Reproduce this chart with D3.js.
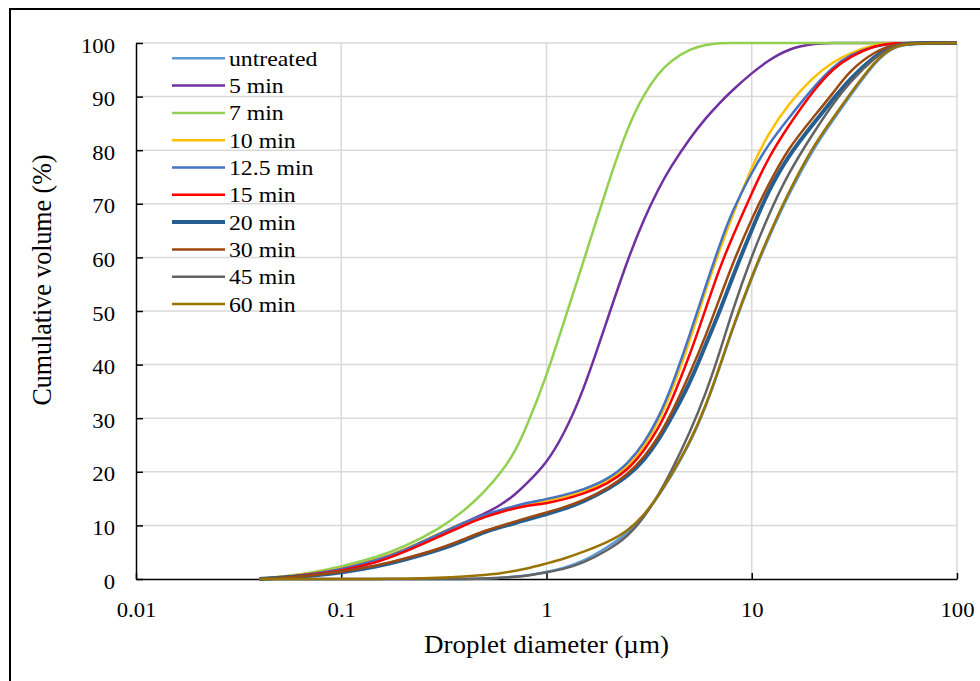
<!DOCTYPE html>
<html>
<head>
<meta charset="utf-8">
<style>
    body { margin: 0; background: #fff; }
    svg { display: block; background: #fff; }
    text { font-family: "Liberation Serif", "Times New Roman", serif; fill: #000; }
</style>
<script src="https://cdn.jsdelivr.net/npm/d3@7"></script>
</head>
<body>
<div id="chart"></div>
<script>
// droplet sizes (um) where the curves are sampled
var sizes = [0.04, 0.05, 0.07, 0.1, 0.15, 0.2, 0.3, 0.4, 0.5, 0.6, 0.7, 0.8, 1, 1.2, 1.5, 2, 2.5, 3, 3.5, 4, 5, 6, 7, 8, 10, 12, 15, 20, 25, 30, 40, 50, 70, 100];

// cumulative volume (%) per series, one value per size
var untreated = [0, 0, 0, 0, 0, 0, 0, 0, 0.1, 0.2, 0.4, 0.6, 1.3, 2.0, 3.2, 6.0, 8.6, 11.9, 15.4, 18.8, 25.2, 32.3, 39.5, 46.3, 56.2, 63.4, 71.5, 80.4, 85.7, 90.0, 96.6, 99.7, 100, 100];
var min5      = [0, 0.3, 1.0, 1.9, 3.6, 5.3, 8.4, 10.6, 12.2, 13.8, 15.7, 17.8, 21.6, 26.6, 34.6, 49.0, 59.9, 67.4, 72.7, 76.7, 82.3, 86.1, 88.9, 91.1, 94.4, 96.7, 98.9, 99.9, 100, 100, 100, 100, 100, 100];
var min7      = [0, 0.4, 1.1, 2.3, 4.1, 5.9, 9.3, 12.8, 16.3, 19.8, 23.6, 28.4, 37.8, 47.3, 58.7, 74.0, 84.6, 90.6, 94.3, 96.6, 98.9, 99.7, 100, 100, 100, 100, 100, 100, 100, 100, 100, 100, 100, 100];
var min10     = [0, 0.3, 1.0, 1.9, 3.6, 5.3, 8.5, 10.6, 11.9, 12.7, 13.4, 13.9, 14.6, 15.3, 16.3, 18.2, 21.0, 24.8, 29.3, 34.2, 44.4, 54.3, 61.5, 67.5, 77.0, 83.0, 88.5, 93.8, 96.5, 98.1, 99.8, 100, 100, 100];
var min12_5   = [0, 0.3, 0.9, 1.8, 3.5, 5.2, 8.4, 10.6, 12.0, 12.9, 13.6, 14.2, 14.9, 15.6, 16.6, 18.6, 21.6, 25.4, 30.0, 35.0, 45.6, 55.0, 62.5, 68.5, 75.9, 81.0, 85.8, 91.8, 95.6, 97.8, 99.5, 100, 100, 100];
var min15     = [0, 0.25, 0.8, 1.5, 3.1, 4.9, 7.9, 10.1, 11.6, 12.5, 13.2, 13.7, 14.1, 14.8, 15.8, 17.8, 20.4, 24.0, 28.0, 32.5, 41.8, 50.7, 58.2, 63.6, 72.0, 78.5, 84.4, 91.2, 95.3, 97.4, 99.6, 100, 100, 100];
var min20     = [0, 0.2, 0.55, 1.2, 2.3, 3.5, 5.4, 7.2, 8.8, 9.7, 10.4, 11.1, 12.1, 13.0, 14.3, 16.8, 19.2, 22.2, 25.8, 29.6, 36.5, 44.0, 50.0, 56.0, 65.2, 72.3, 78.9, 85.0, 89.6, 93.3, 97.7, 99.9, 100, 100];
var min30     = [0, 0.2, 0.6, 1.3, 2.5, 3.7, 5.6, 7.5, 9.0, 9.9, 10.7, 11.4, 12.4, 13.3, 14.6, 16.9, 19.6, 22.8, 26.4, 30.3, 38.3, 45.6, 52.5, 58.5, 67.3, 73.4, 80.3, 86.2, 90.7, 94.9, 98.5, 99.9, 100, 100];
var min45     = [0, 0, 0, 0, 0, 0, 0, 0, 0.1, 0.2, 0.4, 0.6, 1.2, 1.8, 2.9, 5.4, 8.0, 11.6, 15.6, 19.6, 27.3, 34.8, 42.4, 49.8, 60.3, 67.7, 75.6, 83.3, 88.8, 92.7, 97.4, 99.9, 100, 100];
var min60     = [0, 0, 0, 0, 0, 0.05, 0.2, 0.45, 0.75, 1.05, 1.5, 1.9, 2.9, 3.7, 5.0, 6.9, 9.0, 12.0, 15.5, 19.0, 25.5, 32.5, 39.8, 46.5, 56.5, 63.8, 72.0, 80.9, 86.1, 90.4, 96.8, 99.8, 100, 100];

var names  = ["untreated", "5 min", "7 min", "10 min", "12.5 min", "15 min", "20 min", "30 min", "45 min", "60 min"];
var values = [untreated, min5, min7, min10, min12_5, min15, min20, min30, min45, min60];
var colors = ["#5b9bd5", "#7030a0", "#92d050", "#ffc000", "#4472c4", "#ff0000", "#255e91", "#9e480e", "#636363", "#997300"];
var widths = [2.5, 2.5, 2.5, 2.5, 2.5, 2.5, 4, 2.5, 2.5, 2.5];

var yTicks = [0, 10, 20, 30, 40, 50, 60, 70, 80, 90, 100];
var xTicks = [0.01, 0.1, 1, 10, 100];

var W = 980, H = 681;
var SX = 1.08; // the text in the picture is a little wider than tall

var svg = d3.select("#chart").append("svg")
    .attr("width", W)
    .attr("height", H);

// outer frame
svg.append("rect")
    .attr("x", 10).attr("y", 9)
    .attr("width", W + 20).attr("height", H + 20)
    .attr("fill", "none")
    .attr("stroke", "#000")
    .attr("stroke-width", 2);

var x = d3.scaleLog().domain([0.01, 100]).range([136, 957]);
var y = d3.scaleLinear().domain([0, 100]).range([579, 43]);

// grid
svg.append("g").selectAll("line")
    .data(yTicks.filter(function (d) { return d > 0; }))
    .enter().append("line")
    .attr("x1", x(0.01)).attr("x2", x(100))
    .attr("y1", function (d) { return y(d); })
    .attr("y2", function (d) { return y(d); })
    .attr("stroke", "#d9d9d9").attr("stroke-width", 1.5);

svg.append("g").selectAll("line")
    .data(xTicks.filter(function (d) { return d > 0.01; }))
    .enter().append("line")
    .attr("x1", function (d) { return x(d); })
    .attr("x2", function (d) { return x(d); })
    .attr("y1", y(0)).attr("y2", y(100))
    .attr("stroke", "#d9d9d9").attr("stroke-width", 1.5);

// axes
var xAxis = d3.axisBottom(x)
    .tickValues(xTicks)
    .tickFormat(function (d) { return String(d); })
    .tickSizeInner(-6).tickSizeOuter(0).tickPadding(0);

var yAxis = d3.axisLeft(y)
    .tickValues(yTicks)
    .tickFormat(d3.format("d"))
    .tickSizeInner(-7).tickSizeOuter(0).tickPadding(0);

var gx = svg.append("g").attr("transform", "translate(0," + y(0) + ")").call(xAxis);
var gy = svg.append("g").attr("transform", "translate(" + x(0.01) + ",0)").call(yAxis);

[gx, gy].forEach(function (g) {
    g.select(".domain").attr("stroke", "#000").attr("stroke-width", 1.5);
    g.selectAll(".tick line").attr("stroke", "#000").attr("stroke-width", 1.5);
    g.selectAll(".tick text")
        .attr("fill", "#000")
        .style("font-family", '"Liberation Serif", "Times New Roman", serif')
        .style("font-size", "21px");
});

gx.selectAll(".tick text")
    .attr("y", 0).attr("dy", null)
    .attr("transform", "translate(0,38) scale(" + SX + ",1)");

gy.selectAll(".tick text")
    .attr("x", 0).attr("dy", null)
    .attr("text-anchor", "end")
    .attr("transform", "translate(-21,9) scale(" + SX + ",1)");

// curves (smoothed like the spreadsheet's smoothed lines)
var line = d3.line()
    .x(function (d) { return x(d.size); })
    .y(function (d) { return y(d.v); })
    .curve(d3.curveBasis);

var series = names.map(function (name, i) {
    return {
        name: name,
        color: colors[i],
        width: widths[i],
        points: sizes.map(function (s, j) { return { size: s, v: values[i][j] }; })
    };
});

svg.append("g").selectAll("path")
    .data(series)
    .enter().append("path")
    .attr("d", function (d) { return line(d.points); })
    .attr("fill", "none")
    .attr("stroke", function (d) { return d.color; })
    .attr("stroke-width", function (d) { return d.width; })
    .attr("stroke-linejoin", "round");

// legend
var legend = svg.append("g");
var rows = legend.selectAll("g")
    .data(series)
    .enter().append("g")
    .attr("transform", function (d, i) { return "translate(172," + (58.3 + i * 27.3) + ")"; });

rows.append("line")
    .attr("x1", 0).attr("x2", 53)
    .attr("stroke", function (d) { return d.color; })
    .attr("stroke-width", function (d) { return d.width; });

rows.append("text")
    .attr("transform", "translate(57,7.5) scale(" + SX + ",1)")
    .style("font-size", "22px")
    .text(function (d) { return d.name; });

// axis titles
svg.append("text")
    .attr("transform", "translate(546.5,653) scale(" + SX + ",1)")
    .attr("text-anchor", "middle")
    .style("font-size", "25px")
    .text("Droplet diameter (\u00b5m)");

svg.append("text")
    .attr("transform", "translate(51,280) scale(" + SX + ",1) rotate(-90)")
    .attr("text-anchor", "middle")
    .style("font-size", "26px")
    .text("Cumulative volume (%)");
</script>
</body>
</html>
